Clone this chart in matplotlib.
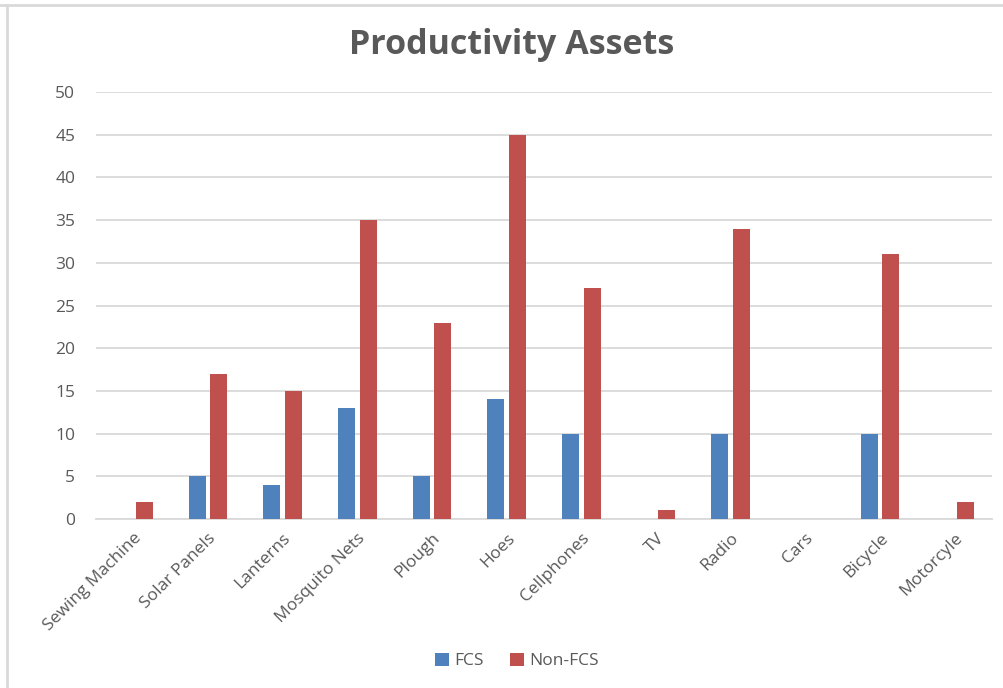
import numpy as np
import matplotlib.pyplot as plt
from matplotlib.lines import Line2D

categories = ["Sewing Machine", "Solar Panels", "Lanterns", "Mosquito Nets", "Plough",
              "Hoes", "Cellphones", "TV", "Radio", "Cars", "Bicycle", "Motorcyle"]
fcs = [0, 5, 4, 13, 5, 14, 10, 0, 10, 0, 10, 0]
non_fcs = [2, 17, 15, 35, 23, 45, 27, 1, 34, 0, 31, 2]
y_ticks = [0, 5, 10, 15, 20, 25, 30, 35, 40, 45, 50]

plt.rcParams["font.family"] = ["Open Sans", "DejaVu Sans"]
text_color = "#595959"
grid_color = "#D9D9D9"

fig = plt.figure(figsize=(10.04, 6.88), dpi=100)
ax = fig.add_axes([96 / 1004, 1 - 519 / 688, (992 - 96) / 1004, (519 - 92) / 688])

x = np.arange(len(categories))
w = 0.225
ax.bar(x - 0.145, fcs, w, color="#4F81BD", label="FCS", zorder=3)
ax.bar(x + 0.145, non_fcs, w, color="#C0504D", label="Non-FCS", zorder=3)

ax.set_xlim(-0.5, len(categories) - 0.5)
ax.set_ylim(0, 50)
ax.set_yticks(y_ticks)
ax.set_yticklabels([str(v) for v in y_ticks], color=text_color, fontsize=12.5)
ax.set_xticks(x)
ax.set_xticklabels(categories, rotation=45, ha="right", va="top",
                   rotation_mode="anchor", color=text_color, fontsize=12.5)
ax.tick_params(axis="both", length=0)
ax.tick_params(axis="y", pad=15)
ax.tick_params(axis="x", pad=8)
ax.grid(axis="y", color=grid_color, linewidth=1.3, zorder=0)
for s in ["top", "right", "left"]:
    ax.spines[s].set_visible(False)
ax.spines["bottom"].set_color(grid_color)
ax.spines["bottom"].set_linewidth(1.3)

fig.text(0.51, 1 - 45 / 688, "Productivity Assets", ha="center", va="center",
         fontsize=24.5, fontweight="bold", color=text_color)

handles, labels = ax.get_legend_handles_labels()
fig.legend(handles, labels, loc="center", bbox_to_anchor=(0.515, 1 - 661 / 688),
           ncol=2, frameon=False, fontsize=12.5, labelcolor=text_color,
           handlelength=0.8, handleheight=0.8, handletextpad=0.3, columnspacing=1.5)

# chart frame
fig.add_artist(Line2D([0, 1], [1 - 5 / 688] * 2, transform=fig.transFigure,
                      color=grid_color, linewidth=2))
fig.add_artist(Line2D([7 / 1004] * 2, [0, 1 - 5 / 688], transform=fig.transFigure,
                      color=grid_color, linewidth=2))

fig.savefig("out.png", dpi=100)
